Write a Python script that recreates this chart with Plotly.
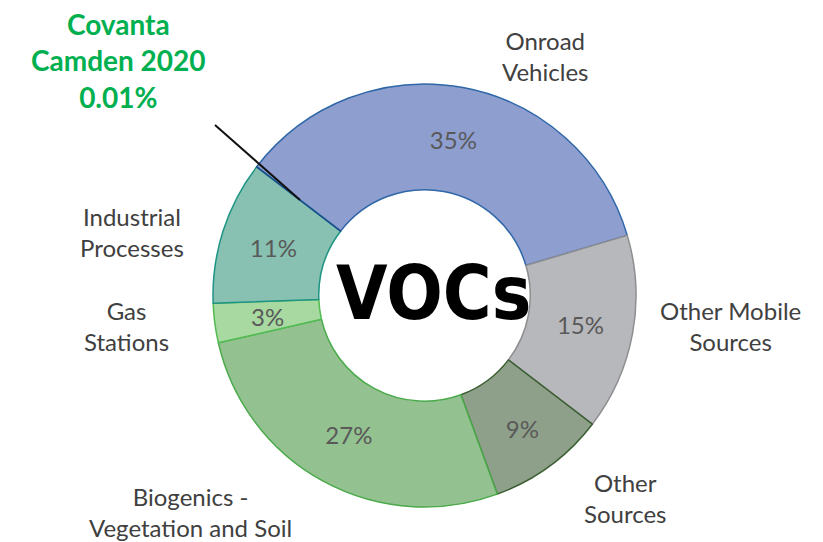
import plotly.graph_objects as go

# =============================================================================
# DATA
# =============================================================================
SOURCES = ['Onroad Vehicles', 'Other Mobile Sources', 'Other Sources',
           'Biogenics - Vegetation and Soil', 'Gas Stations',
           'Industrial Processes', 'Covanta Camden 2020']
SHARES = [35, 15, 9, 27, 3, 11, 0.01]

# outside category labels (text as shown on the chart)
OUTSIDE_LABELS = ['Onroad<br>Vehicles', 'Other Mobile<br>Sources', 'Other<br>Sources',
                  'Biogenics -<br>Vegetation and Soil', 'Gas<br>Stations',
                  'Industrial<br>Processes']
CALLOUT = 'Covanta<br>Camden 2020<br>0.01%'
CENTER_TEXT = 'VOCs'

# =============================================================================
# STYLE
# =============================================================================
# the page body adds an 8px margin, so the figure is drawn 8px in from the corner
OFF = 8
W, H = 823 - OFF, 542 - OFF
FILL = ['#8e9ecf', '#b7b8bc', '#8fa08a', '#93c290', '#a7d9a0', '#88c1b1', '#3f6fb0']
EDGE = ['#2f67a8', '#8e8e90', '#3b5f33', '#4aaa4a', '#52bb52', '#1d9484', '#1d4f90']
LABEL_POS = [(545, 56), (730, 326), (625, 498), (190, 512), (127, 326), (132, 232)]
PCT_FONT = dict(family='Lato, Open Sans, sans-serif', size=24, color='#595959')
CONDENSED = ('Liberation Sans Narrow, DejaVu Sans Condensed, Roboto Condensed, '
             'Noto Sans Condensed, Open Sans Condensed, DejaVu Sans')
# thin gas-station slice: plotly shrinks its inside text, so it is set as an annotation
THIN_SLICE = 4
THIN_POS = (267, 316)


def px(x, y):
    # window pixel -> paper fraction
    return (x - OFF) / W, 1 - (y - OFF) / H


pct_text = [f"{v:g}%" if v >= 1 and i != THIN_SLICE else '' for i, v in enumerate(SHARES)]

dx0, dy0 = px(213, 507)
dx1, dy1 = px(636, 84)
fig = go.Figure(go.Pie(
    labels=SOURCES, values=SHARES, sort=False, direction='clockwise',
    rotation=307.5, hole=0.5,
    text=pct_text, texttemplate='%{text}', textposition='inside',
    insidetextorientation='horizontal',
    textfont=PCT_FONT,
    marker=dict(colors=FILL, line=dict(color=EDGE, width=1.5)),
    domain=dict(x=[dx0, dx1], y=[dy0, dy1]),
    hoverinfo='label+percent', showlegend=False,
))

annotations = []
for lab, (x, y) in zip(OUTSIDE_LABELS, LABEL_POS):
    ax, ay = px(x, y)
    annotations.append(dict(x=ax, y=ay, xref='paper', yref='paper', text=lab,
                            xanchor='center', yanchor='middle',
                            showarrow=False, align='center',
                            font=dict(family='Lato, Open Sans, sans-serif', size=24, color='#404040')))

gx, gy = px(*THIN_POS)
annotations.append(dict(x=gx, y=gy, xref='paper', yref='paper', text=f"{SHARES[THIN_SLICE]:g}%",
                        xanchor='center', yanchor='middle', showarrow=False, font=PCT_FONT))

cx, cy = px(433, 293)
annotations.append(dict(x=cx, y=cy, xref='paper', yref='paper', text=f'<b>{CENTER_TEXT}</b>',
                        xanchor='center', yanchor='middle', showarrow=False,
                        font=dict(family=CONDENSED, size=74, color='#000000')))

tx, ty = px(118, 60)
annotations.append(dict(x=tx, y=ty, xref='paper', yref='paper', text=f'<b>{CALLOUT}</b>',
                        xanchor='center', yanchor='middle', showarrow=False, align='center',
                        font=dict(family='Lato, Open Sans, sans-serif', size=28, color='#00b050')))

lx0, ly0 = px(215, 125)
lx1, ly1 = px(300, 200)
fig.add_shape(type='line', xref='paper', yref='paper', x0=lx0, y0=ly0, x1=lx1, y1=ly1,
              line=dict(color='#111111', width=2))

fig.update_layout(width=W, height=H, margin=dict(l=0, r=0, t=0, b=0),
                  paper_bgcolor='white', plot_bgcolor='white',
                  annotations=annotations, showlegend=False)

fig.write_html("out.html")
